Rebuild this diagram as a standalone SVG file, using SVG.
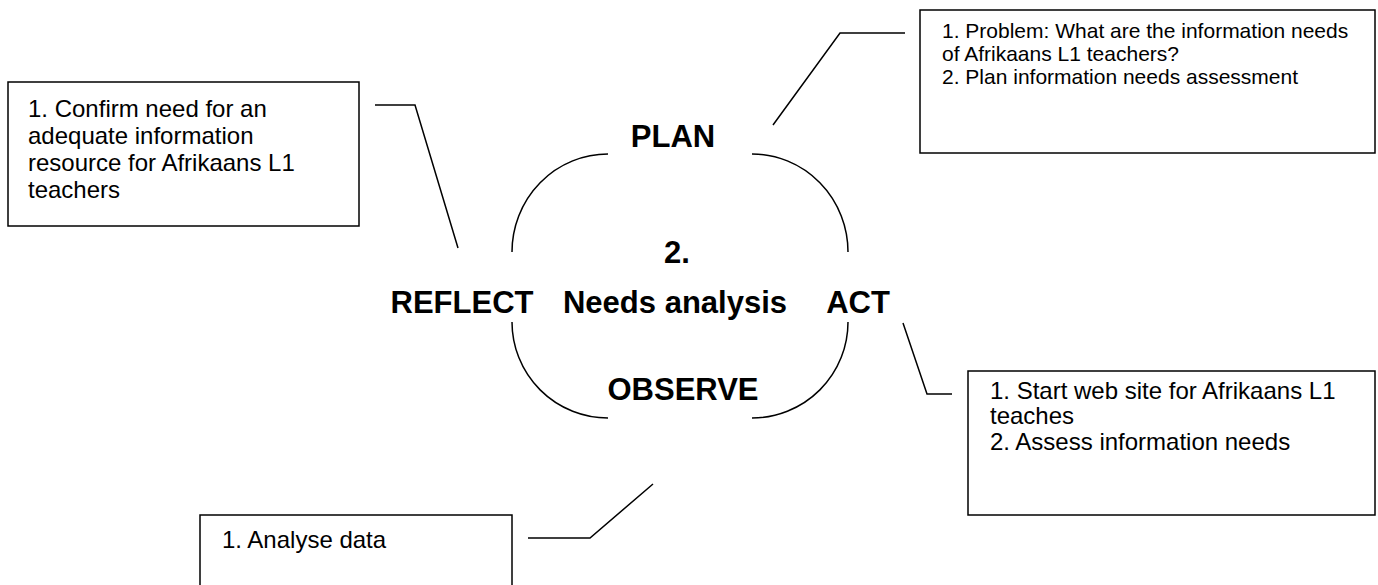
<svg xmlns="http://www.w3.org/2000/svg" width="1378" height="585" viewBox="0 0 1378 585">
<style>
.box{fill:#fff;stroke:#000;stroke-width:1.5}
.ln{fill:none;stroke:#000;stroke-width:1.5}
.t{font-family:"Liberation Sans",Arial,sans-serif;font-size:24px;fill:#000}
.ts{font-family:"Liberation Sans",Arial,sans-serif;font-size:21px;fill:#000}
.b{font-family:"Liberation Sans",Arial,sans-serif;font-size:31px;font-weight:bold;fill:#000;text-anchor:middle}
</style>
<rect width="1378" height="585" fill="#fff"/>
<g id="connectors">
<polyline class="ln" points="375,105 415,105 458,248"/>
<polyline class="ln" points="773,125 840,33 905,33"/>
<polyline class="ln" points="903,323 927,394 952,394"/>
<polyline class="ln" points="528,538 590,538 653,484"/>
</g>
<g id="cycle">
<path class="ln" d="M608,154 A96,98 0 0 0 512,252"/>
<path class="ln" d="M752,154 A96,98 0 0 1 848,252"/>
<path class="ln" d="M512,322 A96,96 0 0 0 608,418"/>
<path class="ln" d="M848,322 A96,96 0 0 1 752,418"/>
</g>
<g id="plan"><text class="b" x="673" y="147">PLAN</text></g>
<g id="center"><text class="b" x="677" y="263">2.</text><text class="b" x="675" y="313">Needs analysis</text></g>
<g id="reflect"><text class="b" x="462" y="313">REFLECT</text></g>
<g id="act"><text class="b" x="858" y="313">ACT</text></g>
<g id="observe"><text class="b" x="683" y="400">OBSERVE</text></g>
<g id="box-reflect">
<rect class="box" x="8" y="82" width="351" height="144"/>
<text class="t" x="28"><tspan x="28" y="117">1. Confirm need for an</tspan><tspan x="28" y="144">adequate information</tspan><tspan x="28" y="171">resource for Afrikaans L1</tspan><tspan x="28" y="198">teachers</tspan></text>
</g>
<g id="box-plan">
<rect class="box" x="920" y="10" width="455" height="143"/>
<text class="ts" x="942"><tspan x="942" y="38">1. Problem: What are the information needs</tspan><tspan x="942" y="61">of Afrikaans L1 teachers?</tspan><tspan x="942" y="84">2. Plan information needs assessment</tspan></text>
</g>
<g id="box-act">
<rect class="box" x="968" y="371" width="407" height="144"/>
<text class="t" x="990"><tspan x="990" y="399">1. Start web site for Afrikaans L1</tspan><tspan x="990" y="424">teaches</tspan><tspan x="990" y="450">2. Assess information needs</tspan></text>
</g>
<g id="box-observe">
<rect class="box" x="200" y="515" width="312" height="90"/>
<text class="t" x="222" y="548">1. Analyse data</text>
</g>
</svg>
